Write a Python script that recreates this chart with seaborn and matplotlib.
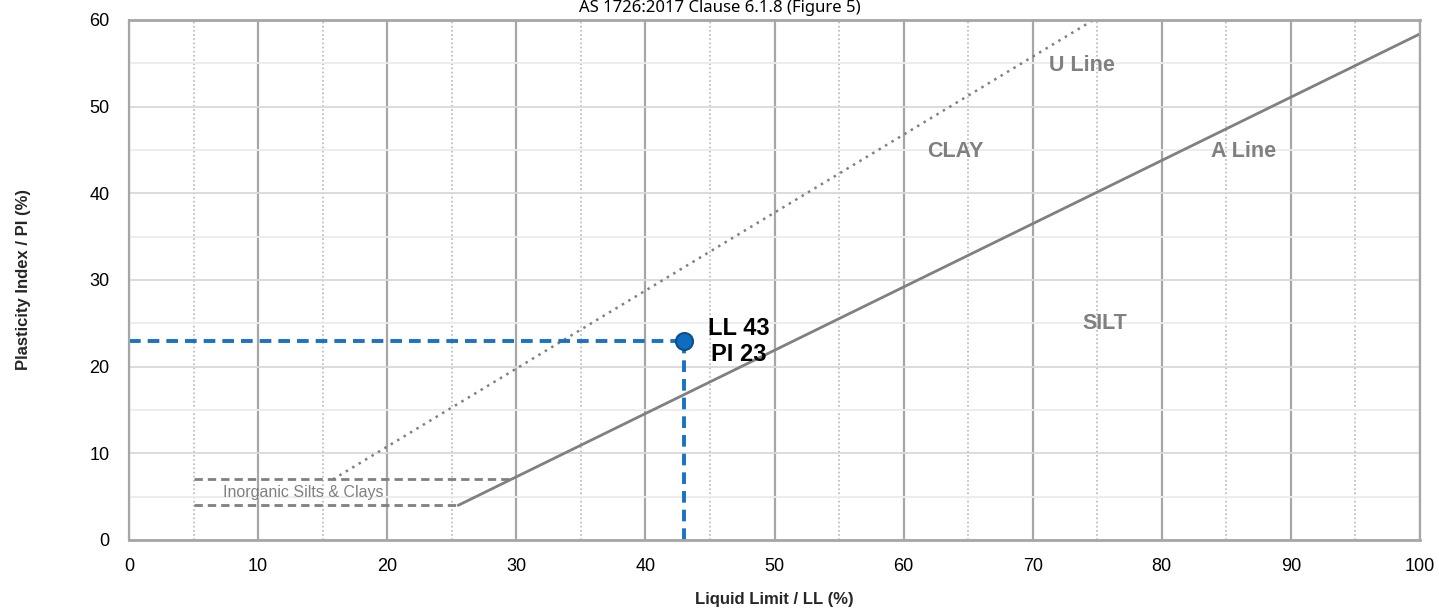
import matplotlib
matplotlib.use("Agg")
import matplotlib.pyplot as plt
import seaborn as sns
from matplotlib.ticker import MultipleLocator

# Casagrande chart lines (LL, PI)
a_line_ll = [25.5, 100]
a_line_pi = [4.0, 58.4]
u_line_ll = [15.8, 74.7]
u_line_pi = [7.0, 60.0]
upper_zone_ll = [5, 29.6]
upper_zone_pi = [7, 7]
lower_zone_ll = [5, 25.5]
lower_zone_pi = [4, 4]

# sample result
sample_ll = [43]
sample_pi = [23]

title = "AS 1726:2017 Clause 6.1.8 (Figure 5)"


def draw_line(ax, xs, ys, **kw):
    # estimator=None so seaborn doesn't aggregate repeated x values
    sns.lineplot(x=xs, y=ys, estimator=None, sort=False, ax=ax, **kw)


def main():
    sns.set_theme(style="white")
    plt.rcParams['font.family'] = ['Liberation Sans', 'DejaVu Sans']

    fig = plt.figure(figsize=(14.39, 6.09), dpi=100)
    ax = fig.add_axes([129 / 1439, 69 / 609, 1291 / 1439, 520 / 609])

    grey = '#808080'

    # grid
    ax.xaxis.set_major_locator(MultipleLocator(10))
    ax.xaxis.set_minor_locator(MultipleLocator(5))
    ax.yaxis.set_major_locator(MultipleLocator(10))
    ax.yaxis.set_minor_locator(MultipleLocator(5))
    ax.grid(which='major', axis='x', color='#a6a6a6', linewidth=1.6, linestyle='-')
    ax.grid(which='minor', axis='x', color='#b8b8b8', linewidth=1.2, linestyle=(0, (1, 1.5)))
    ax.grid(which='major', axis='y', color='#d9d9d9', linewidth=1.3, linestyle='-')
    ax.grid(which='minor', axis='y', color='#ececec', linewidth=1.3, linestyle='-')
    ax.set_axisbelow(True)

    ll_dash = (0, (3, 1.8))
    draw_line(ax, a_line_ll, a_line_pi, color=grey, linewidth=2)
    draw_line(ax, u_line_ll, u_line_pi, color=grey, linewidth=1.8, linestyle=(0, (1, 2)))
    draw_line(ax, upper_zone_ll, upper_zone_pi, color=grey, linewidth=2, linestyle=ll_dash)
    draw_line(ax, lower_zone_ll, lower_zone_pi, color=grey, linewidth=2, linestyle=ll_dash)

    # sample guide lines
    blue = '#1a72c4'
    draw_line(ax, [0, sample_ll[0]], [sample_pi[0], sample_pi[0]], color=blue,
              linewidth=2.8, linestyle=(0, (3, 1.8)))
    draw_line(ax, [sample_ll[0], sample_ll[0]], [0, sample_pi[0]], color=blue,
              linewidth=2.8, linestyle=(0, (3, 1.8)))
    sns.scatterplot(x=sample_ll, y=sample_pi, color='#0f6cbf', edgecolor='#0b4f8c',
                    linewidth=1.5, s=150, zorder=5, ax=ax)
    ax.text(sample_ll[0] + 4.2, sample_pi[0] - 0.1, f"LL {sample_ll[0]}\nPI {sample_pi[0]}",
            fontsize=17, fontweight='bold', color='black', ha='center', va='center',
            linespacing=1.2)

    # region labels
    lab = dict(fontsize=15.5, fontweight='bold', color=grey, ha='center', va='center')
    ax.text(73.8, 54.8, "U Line", **lab)
    ax.text(64, 44.8, "CLAY", **lab)
    ax.text(86.3, 44.8, "A Line", **lab)
    ax.text(75.6, 25, "SILT", **lab)
    ax.text(13.5, 5.5, "Inorganic Silts & Clays", fontsize=11.5, color=grey,
            ha='center', va='center')

    ax.set_xlim(0, 100)
    ax.set_ylim(0, 60)
    for side in ['top', 'bottom']:
        ax.spines[side].set_color('#a6a6a6')
        ax.spines[side].set_linewidth(2)
    for side in ['left', 'right']:
        ax.spines[side].set_color('#a6a6a6')
        ax.spines[side].set_linewidth(1.6)

    ax.tick_params(axis='both', which='both', length=0, labelsize=13, colors='black')
    ax.tick_params(axis='x', pad=13)
    ax.tick_params(axis='y', pad=14)
    ax.set_xlabel("Liquid Limit / LL (%)", fontsize=12, fontweight='bold', labelpad=12)
    ax.set_ylabel("Plasticity Index / PI (%)", fontsize=12, fontweight='bold', labelpad=42)

    fig.text(0.5, 1.0, title, fontsize=12, ha='center', va='top', color='black',
             family=['Noto Sans', 'DejaVu Sans'])

    fig.savefig("out.png", dpi=100)


if __name__ == "__main__":
    main()
